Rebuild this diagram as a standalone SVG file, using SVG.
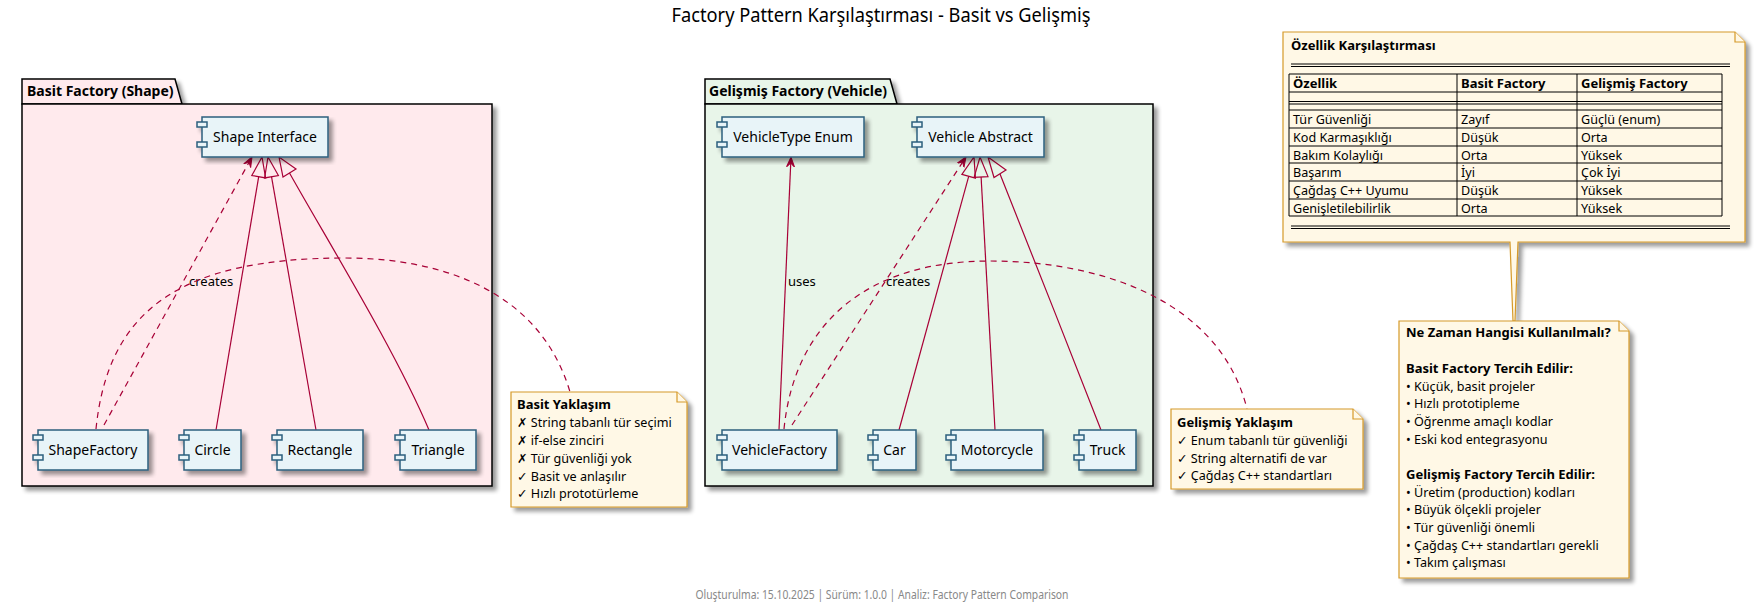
<svg xmlns="http://www.w3.org/2000/svg" width="1755" height="611" viewBox="0 0 1755 611">
<defs>
<filter id="sh" x="-10%" y="-10%" width="130%" height="130%">
<feGaussianBlur in="SourceAlpha" stdDeviation="2"/>
<feOffset dx="4" dy="4" result="b"/>
<feComponentTransfer><feFuncA type="linear" slope="0.4"/></feComponentTransfer>
<feMerge><feMergeNode/><feMergeNode in="SourceGraphic"/></feMerge>
</filter>
<marker id="arr" markerWidth="12" markerHeight="10" refX="10" refY="5" orient="auto" markerUnits="userSpaceOnUse">
<path d="M0,1 L10,5 L0,9 L4,5 Z" fill="#A80036" stroke="#A80036" stroke-width="1"/>
</marker>
</defs>
<style>
text{font-family:"Noto Sans","DejaVu Sans",sans-serif;fill:#000}
.pkgt{font-size:14px;font-weight:bold}
.cmp rect{fill:#E8F4F8;stroke:#2B5F7E;stroke-width:1.5}
.cl{font-size:14px;text-anchor:middle}
.note path.nb{fill:#FFF8E6;stroke:#D69A2A;stroke-width:1.2}
.note path.tb{stroke:#000;stroke-width:1;fill:none}
.nt{font-size:12.6px}
.b{font-weight:bold;font-size:13px}
.ln{stroke:#A80036;stroke-width:1.2;fill:none}
.dash{stroke-dasharray:6,5}
.tri{fill:none;stroke:#A80036;stroke-width:1.2}
.lbl{font-size:13px}
.foot{fill:#888}
</style>

<text x="881" y="22" font-size="19" text-anchor="middle" textLength="419" lengthAdjust="spacingAndGlyphs">Factory Pattern Karşılaştırması - Basit vs Gelişmiş</text>

<g id="pkg-basit" filter="url(#sh)">
<path d="M22,104 L22,79 L175,79 L182,104 Z" fill="#FFEAED" stroke="#000" stroke-width="1.5"/>
<rect x="22" y="104" width="470" height="382" fill="#FFEAED" stroke="#000" stroke-width="1.5"/>
</g>
<text class="pkgt" x="27" y="96">Basit Factory (Shape)</text>

<g id="pkg-gelismis" filter="url(#sh)">
<path d="M705,104 L705,79 L890,79 L897,104 Z" fill="#E8F5E9" stroke="#000" stroke-width="1.5"/>
<rect x="705" y="104" width="448" height="382" fill="#E8F5E9" stroke="#000" stroke-width="1.5"/>
</g>
<text class="pkgt" x="709" y="96">Gelişmiş Factory (Vehicle)</text>

<g id="connectors">
<path class="ln" d="M216,430 L258.7,176.7"/>
<polygon class="tri" points="262,157 251.8,175.5 265.6,177.9"/>
<path class="ln" d="M316,430 L271.5,176.7"/>
<polygon class="tri" points="268,157 278.4,175.5 264.6,177.9"/>
<path class="ln" d="M429,430 C395,350 330,245 289.5,173"/>
<polygon class="tri" points="279,157 283,177 296,169"/>
<path class="ln dash" d="M104,425 L252,157" marker-end="url(#arr)"/>
<text class="lbl" x="189" y="286">creates</text>
<path class="ln dash" d="M96,429 C108,310 180,258 345,258 C440,258 540,290 570,392"/>
<path class="ln" d="M779,430 L791,157" marker-end="url(#arr)"/>
<text class="lbl" x="788" y="286">uses</text>
<path class="ln dash" d="M792,425 L966,157" marker-end="url(#arr)"/>
<text class="lbl" x="886" y="286">creates</text>
<path class="ln" d="M899,430 L968.7,176.3"/>
<polygon class="tri" points="974,157 975.4,178.2 961.9,174.4"/>
<path class="ln" d="M995,430 L981.1,177"/>
<polygon class="tri" points="980,157 988,176.6 974.1,177.4"/>
<path class="ln" d="M1101,430 C1070,350 1030,250 1000,174"/>
<polygon class="tri" points="988,157 994,177.5 1006,170"/>
<path class="ln dash" d="M784,429 C795,320 870,261 990,261 C1100,261 1220,300 1247,409"/>
</g>

<g id="shape-interface" class="cmp" filter="url(#sh)">
<rect x="202" y="117" width="126" height="40"/><rect x="197" y="122" width="10" height="5"/><rect x="197" y="142" width="10" height="5"/>
</g>
<text class="cl" x="265" y="142">Shape Interface</text>
<g id="shape-factory" class="cmp" filter="url(#sh)">
<rect x="38" y="430" width="110" height="40"/><rect x="33" y="435" width="10" height="5"/><rect x="33" y="455" width="10" height="5"/>
</g>
<text class="cl" x="93" y="455">ShapeFactory</text>
<g id="circle" class="cmp" filter="url(#sh)">
<rect x="184" y="430" width="57" height="40"/><rect x="179" y="435" width="10" height="5"/><rect x="179" y="455" width="10" height="5"/>
</g>
<text class="cl" x="212.5" y="455">Circle</text>
<g id="rectangle" class="cmp" filter="url(#sh)">
<rect x="277" y="430" width="86" height="40"/><rect x="272" y="435" width="10" height="5"/><rect x="272" y="455" width="10" height="5"/>
</g>
<text class="cl" x="320" y="455">Rectangle</text>
<g id="triangle" class="cmp" filter="url(#sh)">
<rect x="400" y="430" width="76" height="40"/><rect x="395" y="435" width="10" height="5"/><rect x="395" y="455" width="10" height="5"/>
</g>
<text class="cl" x="438" y="455">Triangle</text>

<g id="vehicletype-enum" class="cmp" filter="url(#sh)">
<rect x="722" y="117" width="142" height="40"/><rect x="717" y="122" width="10" height="5"/><rect x="717" y="142" width="10" height="5"/>
</g>
<text class="cl" x="793" y="142">VehicleType Enum</text>
<g id="vehicle-abstract" class="cmp" filter="url(#sh)">
<rect x="917" y="117" width="127" height="40"/><rect x="912" y="122" width="10" height="5"/><rect x="912" y="142" width="10" height="5"/>
</g>
<text class="cl" x="980.5" y="142">Vehicle Abstract</text>
<g id="vehicle-factory" class="cmp" filter="url(#sh)">
<rect x="722" y="430" width="115" height="40"/><rect x="717" y="435" width="10" height="5"/><rect x="717" y="455" width="10" height="5"/>
</g>
<text class="cl" x="779.5" y="455">VehicleFactory</text>
<g id="car" class="cmp" filter="url(#sh)">
<rect x="873" y="430" width="43" height="40"/><rect x="868" y="435" width="10" height="5"/><rect x="868" y="455" width="10" height="5"/>
</g>
<text class="cl" x="894.5" y="455">Car</text>
<g id="motorcycle" class="cmp" filter="url(#sh)">
<rect x="951" y="430" width="92" height="40"/><rect x="946" y="435" width="10" height="5"/><rect x="946" y="455" width="10" height="5"/>
</g>
<text class="cl" x="997" y="455">Motorcycle</text>
<g id="truck" class="cmp" filter="url(#sh)">
<rect x="1079" y="430" width="57" height="40"/><rect x="1074" y="435" width="10" height="5"/><rect x="1074" y="455" width="10" height="5"/>
</g>
<text class="cl" x="1107.5" y="455">Truck</text>

<g id="note-basit" class="note">
<path class="nb" filter="url(#sh)" d="M511,392 L677,392 L687,402 L687,507 L511,507 Z"/>
<path class="nb" d="M677,392 L677,402 L687,402"/>
<text class="nt b" x="517" y="409">Basit Yaklaşım</text>
<text class="nt" x="517" y="427">✗ String tabanlı tür seçimi</text>
<text class="nt" x="517" y="445">✗ if-else zinciri</text>
<text class="nt" x="517" y="463">✗ Tür güvenliği yok</text>
<text class="nt" x="517" y="481">✓ Basit ve anlaşılır</text>
<text class="nt" x="517" y="498">✓ Hızlı prototürleme</text>
</g>

<g id="note-gelismis" class="note">
<path class="nb" filter="url(#sh)" d="M1171,409 L1353,409 L1363,419 L1363,489 L1171,489 Z"/>
<path class="nb" d="M1353,409 L1353,419 L1363,419"/>
<text class="nt b" x="1177" y="427">Gelişmiş Yaklaşım</text>
<text class="nt" x="1177" y="445">✓ Enum tabanlı tür güvenliği</text>
<text class="nt" x="1177" y="463">✓ String alternatifi de var</text>
<text class="nt" x="1177" y="480">✓ Çağdaş C++ standartları</text>
</g>

<g id="note-ozellik" class="note">
<path class="nb" filter="url(#sh)" d="M1283,32 L1735,32 L1745,42 L1745,242 L1518,242 L1515,321 L1513,321 L1510,242 L1283,242 Z"/>
<path class="nb" d="M1735,32 L1735,42 L1745,42"/>
<text class="nt b" x="1291" y="50">Özellik Karşılaştırması</text>
<path class="tb" d="M1291,64 H1730 M1291,66.5 H1730 M1291,226 H1730 M1291,228.5 H1730"/>
<path class="tb" d="M1289,74 H1722 M1289,92 H1722 M1289,101.5 H1722 M1289,104 H1722 M1289,110 H1722 M1289,128 H1722 M1289,146 H1722 M1289,163 H1722 M1289,181 H1722 M1289,199 H1722 M1289,216 H1722 M1289,74 V216 M1457,74 V216 M1577,74 V216 M1722,74 V216"/>
<text class="nt b" x="1293" y="88">Özellik</text>
<text class="nt b" x="1461" y="88">Basit Factory</text>
<text class="nt b" x="1581" y="88">Gelişmiş Factory</text>
<text class="nt" x="1293" y="124">Tür Güvenliği</text><text class="nt" x="1461" y="124">Zayıf</text><text class="nt" x="1581" y="124">Güçlü (enum)</text>
<text class="nt" x="1293" y="142">Kod Karmaşıklığı</text><text class="nt" x="1461" y="142">Düşük</text><text class="nt" x="1581" y="142">Orta</text>
<text class="nt" x="1293" y="160">Bakım Kolaylığı</text><text class="nt" x="1461" y="160">Orta</text><text class="nt" x="1581" y="160">Yüksek</text>
<text class="nt" x="1293" y="177">Başarım</text><text class="nt" x="1461" y="177">İyi</text><text class="nt" x="1581" y="177">Çok İyi</text>
<text class="nt" x="1293" y="195">Çağdaş C++ Uyumu</text><text class="nt" x="1461" y="195">Düşük</text><text class="nt" x="1581" y="195">Yüksek</text>
<text class="nt" x="1293" y="213">Genişletilebilirlik</text><text class="nt" x="1461" y="213">Orta</text><text class="nt" x="1581" y="213">Yüksek</text>
</g>

<g id="note-nezaman" class="note">
<path class="nb" filter="url(#sh)" d="M1399,321 L1619,321 L1629,331 L1629,578 L1399,578 Z"/>
<path class="nb" d="M1619,321 L1619,331 L1629,331"/>
<text class="nt b" x="1406" y="337">Ne Zaman Hangisi Kullanılmalı?</text>
<text class="nt b" x="1406" y="373">Basit Factory Tercih Edilir:</text>
<text class="nt" x="1406" y="391">• Küçük, basit projeler</text>
<text class="nt" x="1406" y="408">• Hızlı prototipleme</text>
<text class="nt" x="1406" y="426">• Öğrenme amaçlı kodlar</text>
<text class="nt" x="1406" y="444">• Eski kod entegrasyonu</text>
<text class="nt b" x="1406" y="479">Gelişmiş Factory Tercih Edilir:</text>
<text class="nt" x="1406" y="497">• Üretim (production) kodları</text>
<text class="nt" x="1406" y="514">• Büyük ölçekli projeler</text>
<text class="nt" x="1406" y="532">• Tür güvenliği önemli</text>
<text class="nt" x="1406" y="550">• Çağdaş C++ standartları gerekli</text>
<text class="nt" x="1406" y="567">• Takım çalışması</text>
</g>

<text class="foot" x="882" y="599" font-size="12" text-anchor="middle" textLength="373" lengthAdjust="spacingAndGlyphs">Oluşturulma: 15.10.2025 | Sürüm: 1.0.0 | Analiz: Factory Pattern Comparison</text>
</svg>
